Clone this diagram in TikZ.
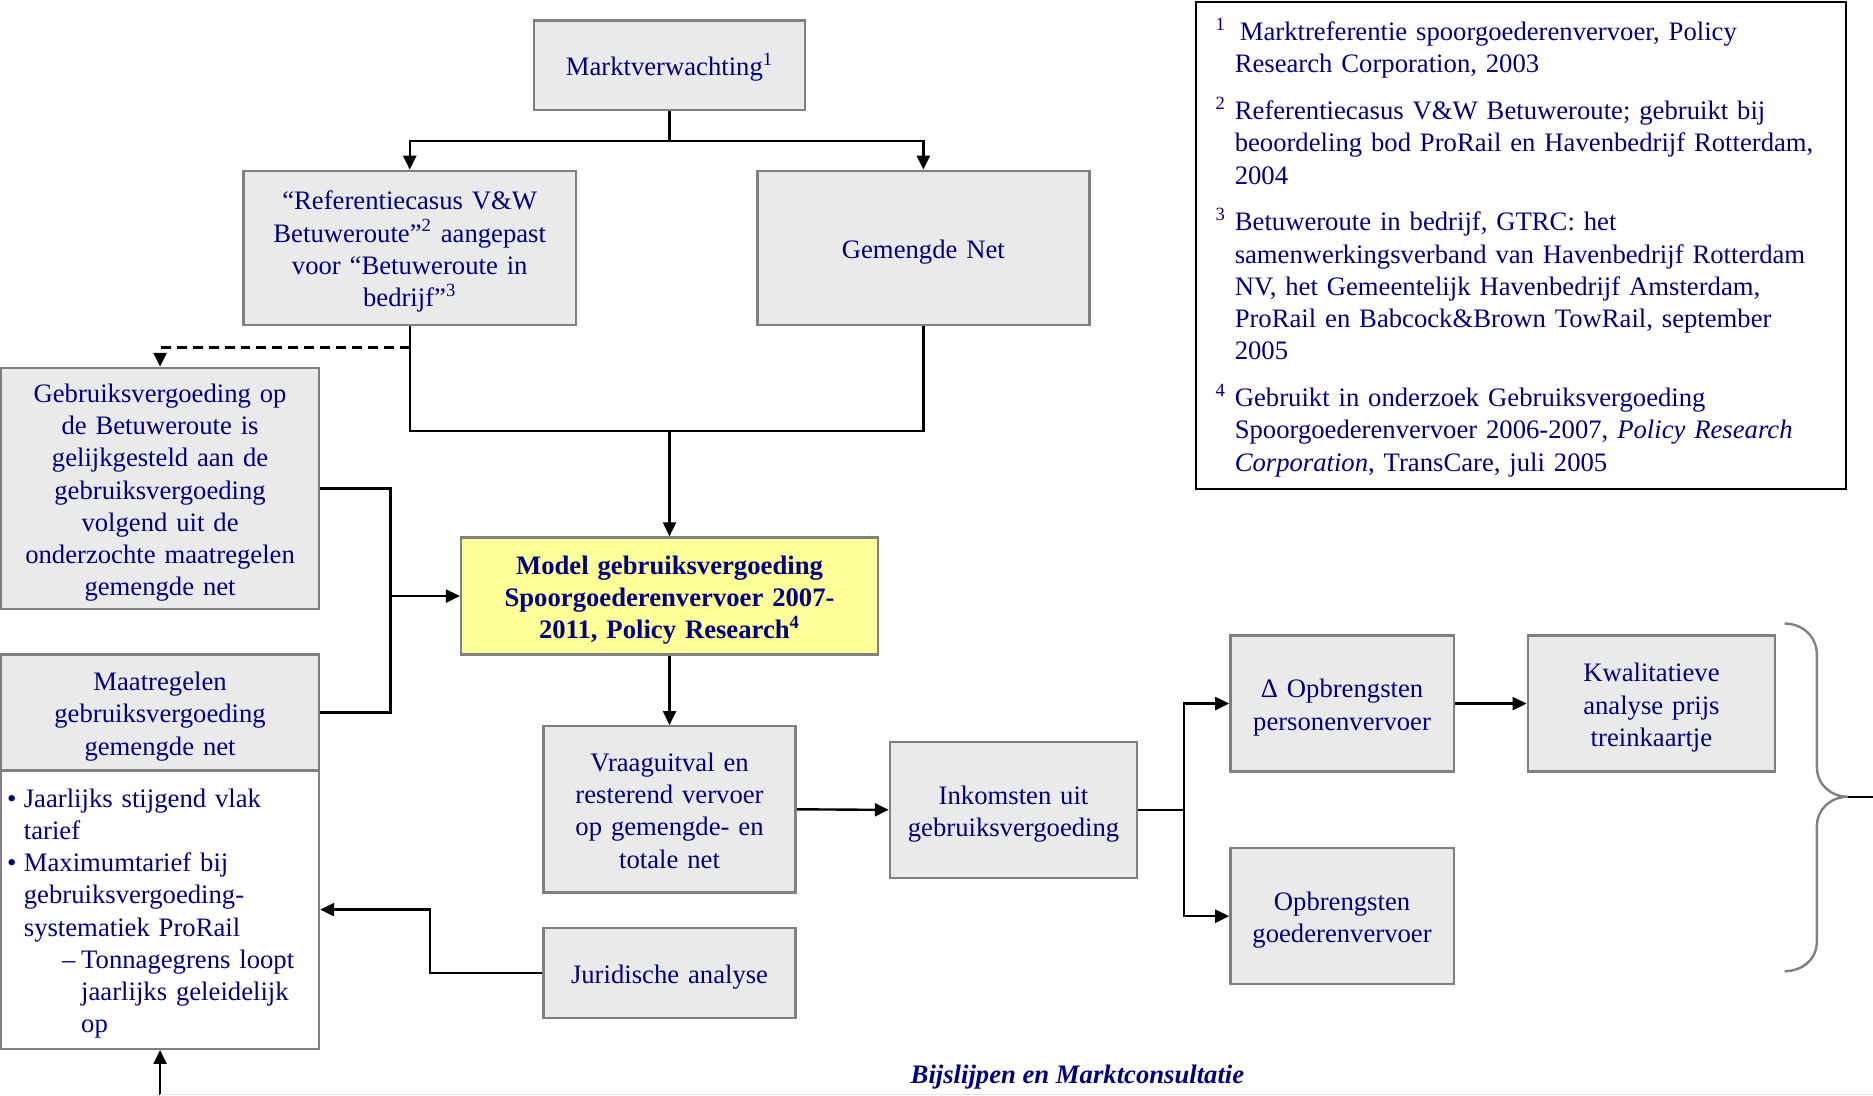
\documentclass[tikz,border=0pt]{standalone}
\usepackage{fontspec}
\setmainfont{Liberation Serif}
\usepackage{tikz}
\usetikzlibrary{arrows.meta}
\definecolor{donkerblauw}{RGB}{0,0,128}
\definecolor{blokgrijs}{RGB}{234,234,234}
\definecolor{randgrijs}{RGB}{128,128,128}
\definecolor{lichtgeel}{RGB}{255,255,153}
\newcommand{\tekst}{\fontsize{13.4}{16.2}\selectfont}

\begin{document}
\begin{tikzpicture}[x=0.6pt,y=-0.6pt]
			\tikzset{regels/.style={execute at begin node={\rule{0pt}{13.5pt}},execute at end node={\rule[-3pt]{0pt}{0pt}}}}
			\tikzset{blok/.style 2 args={draw=randgrijs,fill=blokgrijs,line width=1.2pt,text=donkerblauw,align=center,inner sep=2pt,font=\tekst,minimum width=#1,text width=#1-6pt,minimum height=#2,regels}}
			\tikzset{geel/.style 2 args={blok={#1}{#2},fill=lichtgeel,font=\tekst\bfseries}}
			\tikzset{lijst/.style 2 args={blok={#1}{#2},fill=white,align=left,inner xsep=3pt}}
			\tikzset{noten/.style={draw=black,line width=1pt,fill=white,text=donkerblauw,align=left,inner xsep=10pt,font=\tekst,regels}}
			\tikzset{lijn/.style={line width=1.2pt}}
			\tikzset{pijl/.style={lijn,-{Triangle[length=7pt,width=6.5pt]}}}
			\useasboundingbox (0,0) rectangle (1568,917);
			\node[blok={136.2pt}{45pt}] (markt) at (560.5,54.5) {Marktverwachting\textsuperscript{1}};
			\node[blok={166.8pt}{77.4pt}] (ref) at (343,207.5) {“Referentiecasus V\&W\\Betuweroute”\textsuperscript{2} aangepast\\voor “Betuweroute in\\bedrijf”\textsuperscript{3}};
			\node[blok={166.8pt}{77.4pt}] (gemengd) at (773,207.5) {Gemengde Net};
			\node[blok={159.6pt}{121.2pt}] (gebruik) at (134,409) {Gebruiksvergoeding op\\de Betuweroute is\\gelijkgesteld aan de\\gebruiksvergoeding\\volgend uit de\\onderzochte maatregelen\\gemengde net};
			\node[geel={209.4pt}{58.8pt}] (model) at (560.5,499) {Model gebruiksvergoeding\\Spoorgoederenvervoer 2007-\\2011, Policy Research\textsuperscript{4}};
			\node[blok={159.6pt}{58.2pt}] (maatr) at (134,596.5) {Maatregelen\\gebruiksvergoeding\\gemengde net};
			\node[lijst={159.6pt}{139.8pt}] (opties) at (134,761.5) {\makebox[8.4pt][l]{•}Jaarlijks stijgend vlak\\\hspace*{8.4pt}tarief\\\makebox[8.4pt][l]{•}Maximumtarief bij\\\hspace*{8.4pt}gebruiksvergoeding-\\\hspace*{8.4pt}systematiek ProRail\\\hspace*{27.6pt}\makebox[9.6pt][l]{–}Tonnagegrens loopt\\\hspace*{37.2pt}jaarlijks geleidelijk\\\hspace*{37.2pt}op};
			\node[blok={126.6pt}{83.4pt}] (vraag) at (560.5,677.5) {Vraaguitval en\\resterend vervoer\\op gemengde- en\\totale net};
			\node[blok={126.6pt}{45pt}] (jurid) at (560.5,814.5) {Juridische analyse};
			\node[blok={124.2pt}{68.4pt}] (inkomst) at (848.5,678) {Inkomsten uit\\gebruiksvergoeding};
			\node[blok={112.2pt}{68.4pt}] (perso) at (1123.5,589) {Δ Opbrengsten\\personenvervoer};
			\node[blok={112.2pt}{68.4pt}] (goed) at (1123.5,767) {Opbrengsten\\goederenvervoer};
			\node[blok={124.2pt}{68.4pt}] (kwal) at (1382.5,589) {Kwalitatieve\\analyse prijs\\treinkaartje};
			\node[noten,text width=306.4pt,minimum height=244.2pt] (bronnen) at (1273,205.5) {\textsuperscript{1}\hspace{7pt}Marktreferentie spoorgoederenvervoer, Policy\\\hspace*{9.6pt}Research Corporation, 2003\\[7.3pt]\textsuperscript{2} Referentiecasus V\&W Betuweroute; gebruikt bij\\\hspace*{9.6pt}beoordeling bod ProRail en Havenbedrijf Rotterdam,\\\hspace*{9.6pt}2004\\[7.3pt]\textsuperscript{3} Betuweroute in bedrijf, GTRC: het\\\hspace*{9.6pt}samenwerkingsverband van Havenbedrijf Rotterdam\\\hspace*{9.6pt}NV, het Gemeentelijk Havenbedrijf Amsterdam,\\\hspace*{9.6pt}ProRail en Babcock\&Brown TowRail, september\\\hspace*{9.6pt}2005\\[7.3pt]\textsuperscript{4} Gebruikt in onderzoek Gebruiksvergoeding\\\hspace*{9.6pt}Spoorgoederenvervoer 2006-2007, \textit{Policy Research}\\\hspace*{9.6pt}\textit{Corporation}, TransCare, juli 2005};
			\node[text=donkerblauw,font=\tekst\bfseries\itshape] (bijslijpen) at (902,902) {Bijslijpen en Marktconsultatie};
			\draw[pijl] (markt.south) -- ++(0,25) -| (ref.north);
			\draw[pijl] (markt.south) -- ++(0,25) -| (gemengd.north);
			\draw[pijl,dash pattern=on 5pt off 3pt] (ref.south) ++(0,18) -| (gebruik.north);
			\draw[lijn] (ref.south) -- ++(0,88) coordinate (samen) -| (gemengd.south);
			\draw[pijl] (samen -| model.north) -- (model.north);
			\draw[lijn] (gebruik.east) -- ++(59,0) coordinate (bus) |- (maatr.east);
			\draw[pijl] (bus |- model.west) -- (model.west);
			\draw[pijl] (model.south) -- (vraag.north);
			\draw[pijl] (vraag.east) -- (inkomst.west);
			\draw[pijl] (inkomst.east) -- ++(38,0) |- (perso.west);
			\draw[pijl] (inkomst.east) -- ++(38,0) |- (goed.west);
			\draw[pijl] (perso.east) -- (kwal.west);
			\draw[pijl] (jurid.west) -- ++(-94,0) |- (opties.east);
			\coordinate (onder) at (134,917);
			\draw[pijl] (onder) -- (opties.south);
			\draw[black!10,line width=0.6pt] (onder) ++(0,-1) -- (1568,916);
			\draw[randgrijs,line width=1.2pt] (1494,522) .. controls (1509,522) and (1521,533) .. (1521,548) -- (1521,642) .. controls (1521,657) and (1533,667) .. (1547,667) coordinate (punt) .. controls (1533,667) and (1521,677) .. (1521,692) -- (1521,788) .. controls (1521,803) and (1509,813) .. (1494,813);
			\draw[lijn] (punt) -- (1568,667);
\end{tikzpicture}
\end{document}
